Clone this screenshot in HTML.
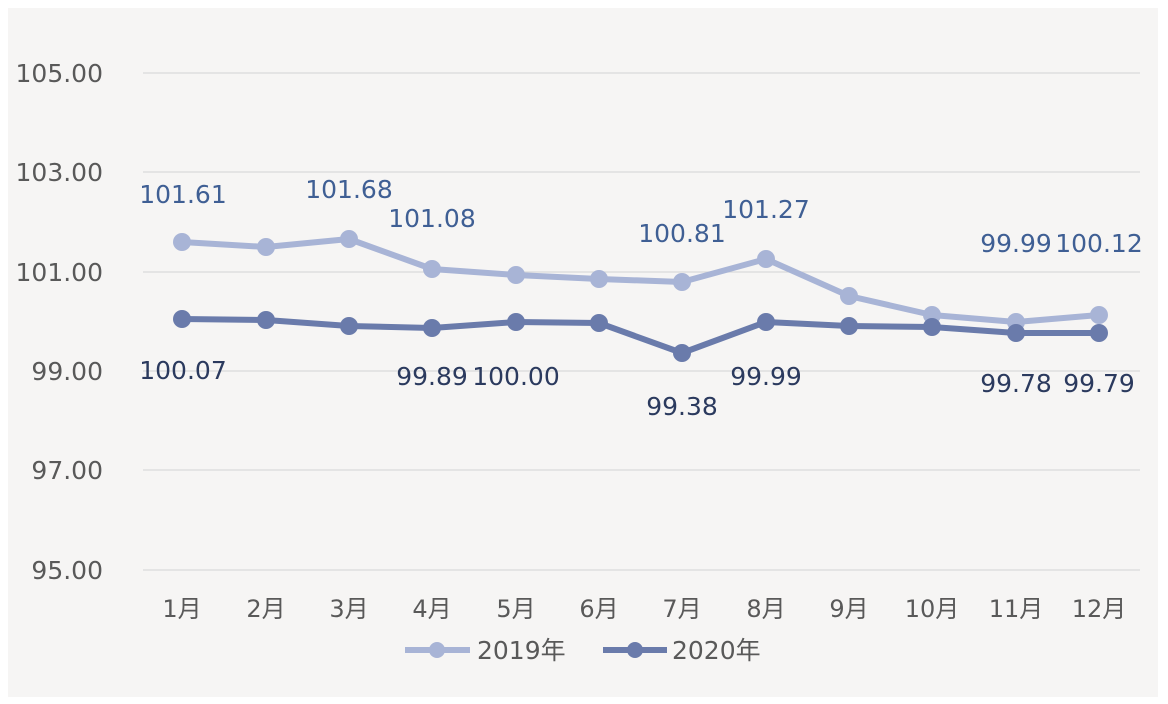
<!DOCTYPE html>
<html><head><meta charset="utf-8"><style>
body{margin:0;background:#fff;}
svg{display:block;font-family:"DejaVu Sans","Noto Sans CJK SC",sans-serif;}
</style></head><body>
<svg width="1168" height="704" viewBox="0 0 1168 704" xmlns="http://www.w3.org/2000/svg">
<rect x="8" y="8" width="1150" height="689" fill="#f6f5f4"/>
<g stroke="#d9d9d9" stroke-width="1.3">
<line x1="143" y1="73" x2="1140" y2="73"/><line x1="143" y1="172" x2="1140" y2="172"/>
<line x1="143" y1="272" x2="1140" y2="272"/><line x1="143" y1="371" x2="1140" y2="371"/>
<line x1="143" y1="470" x2="1140" y2="470"/><line x1="143" y1="570" x2="1140" y2="570"/>
</g>
<g fill="#595959" font-size="25" text-anchor="end">
<text x="103" y="82">105.00</text><text x="103" y="181">103.00</text>
<text x="103" y="281">101.00</text><text x="103" y="380">99.00</text>
<text x="103" y="479">97.00</text><text x="103" y="579">95.00</text>
</g>
<g fill="#595959" font-size="24" text-anchor="middle">
<text x="182" y="617">1月</text><text x="266" y="617">2月</text><text x="349" y="617">3月</text>
<text x="432" y="617">4月</text><text x="516" y="617">5月</text><text x="599" y="617">6月</text>
<text x="682" y="617">7月</text><text x="766" y="617">8月</text><text x="849" y="617">9月</text>
<text x="932" y="617">10月</text><text x="1016" y="617">11月</text><text x="1099" y="617">12月</text>
</g>
<polyline fill="none" stroke="#a8b4d6" stroke-width="6" stroke-linejoin="round" points="182,242 266,247 349,239 432,269 516,275 599,279 682,282 766,259 849,296 932,315 1016,322 1099,315"/>
<g fill="#a8b4d6">
<circle cx="182" cy="242" r="9"/><circle cx="266" cy="247" r="9"/><circle cx="349" cy="239" r="9"/><circle cx="432" cy="269" r="9"/><circle cx="516" cy="275" r="9"/><circle cx="599" cy="279" r="9"/><circle cx="682" cy="282" r="9"/><circle cx="766" cy="259" r="9"/><circle cx="849" cy="296" r="9"/><circle cx="932" cy="315" r="9"/><circle cx="1016" cy="322" r="9"/><circle cx="1099" cy="315" r="9"/>
</g>
<polyline fill="none" stroke="#6a7bab" stroke-width="6" stroke-linejoin="round" points="182,319 266,320 349,326 432,328 516,322 599,323 682,353 766,322 849,326 932,327 1016,333 1099,333"/>
<g fill="#6a7bab">
<circle cx="182" cy="319" r="9"/><circle cx="266" cy="320" r="9"/><circle cx="349" cy="326" r="9"/><circle cx="432" cy="328" r="9"/><circle cx="516" cy="322" r="9"/><circle cx="599" cy="323" r="9"/><circle cx="682" cy="353" r="9"/><circle cx="766" cy="322" r="9"/><circle cx="849" cy="326" r="9"/><circle cx="932" cy="327" r="9"/><circle cx="1016" cy="333" r="9"/><circle cx="1099" cy="333" r="9"/>
</g>
<g fill="#3f5f94" font-size="25" text-anchor="middle">
<text x="183" y="203">101.61</text><text x="349" y="198">101.68</text><text x="432" y="227">101.08</text>
<text x="682" y="242">100.81</text><text x="766" y="218">101.27</text><text x="1016" y="252">99.99</text><text x="1099" y="252">100.12</text>
</g>
<g fill="#2b3a5e" font-size="25" text-anchor="middle">
<text x="183" y="379">100.07</text><text x="432" y="385">99.89</text><text x="516" y="385">100.00</text>
<text x="682" y="415">99.38</text><text x="766" y="385">99.99</text><text x="1016" y="392">99.78</text><text x="1099" y="392">99.79</text>
</g>
<line x1="405" y1="650" x2="470" y2="650" stroke="#a8b4d6" stroke-width="6"/><circle cx="437" cy="650" r="8" fill="#a8b4d6"/>
<text x="477" y="659" font-size="25" fill="#595959">2019年</text>
<line x1="603" y1="650" x2="667" y2="650" stroke="#6a7bab" stroke-width="6"/><circle cx="635" cy="650" r="8" fill="#6a7bab"/>
<text x="672" y="659" font-size="25" fill="#595959">2020年</text>
</svg>
</body></html>
